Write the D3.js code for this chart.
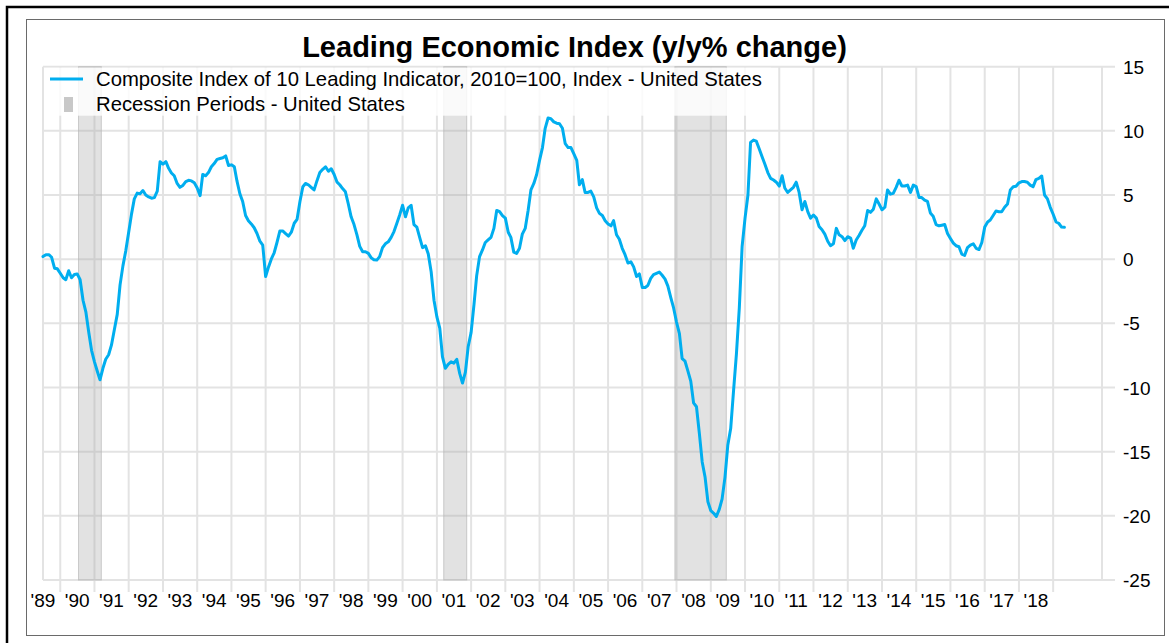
<!DOCTYPE html>
<html>
<head>
<meta charset="utf-8">
<script src="https://cdn.jsdelivr.net/npm/d3@7"></script>
<style>
body { margin: 0; background: white; }
text { font-family: "Liberation Sans", Arial, sans-serif; fill: #000; }
</style>
</head>
<body>
<div id="chart"></div>
<script>
// monthly y/y % change, first value = Jul 1989
var startMonth = new Date(1989, 6, 1);
var leiValues = [
  0.2, 0.35, 0.35, 0.15, -0.7, -0.75,
  -1.1, -1.45, -1.6, -0.9, -1.45, -1.2, -1.15, -1.6, -3.2, -4.1, -5.7, -7.1,
  -8.0, -8.75, -9.4, -8.5, -7.8, -7.45, -6.7, -5.5, -4.3, -2.0, -0.5, 0.65,
  2.1, 3.55, 4.7, 5.15, 5.1, 5.35, 5.0, 4.85, 4.75, 4.8, 5.3, 7.6,
  7.4, 7.6, 7.1, 6.72, 6.5, 5.9, 5.6, 5.75, 6.05, 6.15, 6.1, 5.95,
  5.55, 4.95, 6.6, 6.5, 6.75, 7.2, 7.45, 7.78, 7.85, 7.9, 8.05, 7.3,
  7.35, 7.2, 6.1, 5.1, 4.5, 3.4, 3.0, 2.75, 2.45, 2.0, 1.4, 1.1,
  -1.35, -0.6, 0.0, 0.5, 1.3, 2.2, 2.2, 2.0, 1.8, 2.1, 2.8, 3.1,
  4.5, 5.65, 5.9, 5.8, 5.6, 5.4, 6.1, 6.75, 7.0, 7.2, 6.85, 7.05,
  6.6, 6.0, 5.8, 5.5, 5.25, 4.3, 3.3, 2.7, 1.9, 1.0, 0.58, 0.58,
  0.45, 0.1, -0.05, -0.07, 0.2, 0.9, 1.2, 1.35, 1.7, 2.15, 2.8, 3.45,
  4.2, 3.3, 4.0, 4.2, 2.7, 2.5, 1.7, 0.9, 1.05, 0.4, -1.0, -3.2,
  -4.5, -5.4, -7.6, -8.5, -8.2, -8.0, -8.1, -7.8, -8.9, -9.65, -8.8, -6.8,
  -5.7, -3.5, -1.3, 0.2, 0.7, 1.3, 1.5, 1.7, 2.4, 3.8, 3.7, 3.4,
  3.2, 2.1, 1.7, 0.55, 0.45, 0.85, 1.95, 2.4, 3.8, 5.4, 5.9, 6.6,
  7.7, 8.7, 10.2, 11.0, 10.95, 10.7, 10.6, 10.55, 10.2, 9.0, 8.7, 8.7,
  8.2, 7.7, 5.8, 6.2, 5.2, 5.2, 5.3, 4.86, 4.0, 3.57, 3.4, 3.0,
  2.75, 2.6, 3.0, 1.9, 1.55, 0.85, 0.35, -0.3, -0.2, -0.6, -1.35, -1.15,
  -2.2, -2.2, -2.05, -1.5, -1.2, -1.1, -1.0, -1.25, -1.55, -2.1, -3.0, -3.8,
  -4.9, -5.8, -7.75, -7.95, -8.7, -9.5, -11.2, -11.5, -13.6, -15.8, -17.0, -18.9,
  -19.6, -19.8, -20.05, -19.5, -18.7, -17.0, -14.5, -13.2, -10.2, -7.4, -3.8, 1.0,
  3.2, 5.0, 9.1, 9.28, 9.2, 8.6, 8.0, 7.4, 6.75, 6.3, 6.17, 6.0,
  5.7, 6.5, 5.55, 5.2, 5.4, 5.6, 6.0, 5.2, 3.85, 4.5, 3.7, 3.2,
  3.44, 3.2, 2.55, 2.3, 1.95, 1.4, 1.05, 1.2, 2.4, 1.9, 1.75, 1.45,
  1.75, 1.65, 0.85, 1.5, 1.85, 2.25, 2.6, 3.8, 3.65, 3.9, 4.7, 4.3,
  3.85, 4.05, 5.4, 5.07, 5.13, 5.6, 6.15, 5.7, 5.7, 5.77, 5.2, 5.77,
  5.65, 4.8, 4.8, 4.6, 4.5, 3.6, 3.35, 2.7, 2.6, 2.65, 2.7, 2.0,
  1.62, 1.25, 1.05, 0.97, 0.4, 0.3, 0.9, 1.1, 1.2, 0.85, 0.75, 1.3,
  2.5, 2.9, 3.05, 3.4, 3.75, 3.7, 3.7, 4.05, 4.3, 5.39, 5.64, 5.68,
  5.95, 6.05, 6.05, 6.0, 5.77, 5.64, 6.2, 6.3, 6.48, 5.0, 4.7, 4.04,
  3.5, 2.9, 2.8, 2.5, 2.48
];
var recessionStarts = ["1990-07-15", "2001-03-15", "2007-12-15"];
var recessionEnds = ["1991-03-15", "2001-11-15", "2009-06-15"];
var yTicks = [15, 10, 5, 0, -5, -10, -15, -20, -25];
var labelYears = d3.range(1989, 2019);
var titleText = "Leading Economic Index (y/y% change)";
var legendLabels = ["Composite Index of 10 Leading Indicator, 2010=100, Index - United States",
                    "Recession Periods - United States"];

var lineColour = "#00aeef";
var gridColour = "#e3e3e3";
var plotLeft = 43, plotRight = 1102, plotTop = 66.7, plotBottom = 580;

var svg = d3.select("#chart")
    .append("svg")
    .attr("width", 1169)
    .attr("height", 643);

var x = d3.scaleTime()
    .domain([new Date(1989, 6, 1), new Date(2020, 5, 5)])
    .range([plotLeft, plotRight]);
var y = d3.scaleLinear()
    .domain([-25, 15])
    .range([plotBottom, plotTop]);

var parse = d3.timeParse("%Y-%m-%d");
var data = leiValues.map(function(v, i) {
    return {date: d3.timeMonth.offset(startMonth, i), value: v};
});

// grid
var grid = svg.append("g").attr("id", "grid");
grid.selectAll(".hgrid")
    .data(yTicks)
    .enter().append("line")
    .attr("x1", plotLeft).attr("x2", 1115)
    .attr("y1", function(d) { return y(d); })
    .attr("y2", function(d) { return y(d); })
    .style("stroke", gridColour)
    .style("stroke-width", 2);
grid.selectAll(".vgrid")
    .data(d3.timeYear.range(new Date(1990, 0, 1), new Date(2019, 1, 1)))
    .enter().append("line")
    .attr("x1", function(d) { return x(d); })
    .attr("x2", function(d) { return x(d); })
    .attr("y1", plotTop).attr("y2", plotBottom + 12)
    .style("stroke", gridColour)
    .style("stroke-width", 2);
grid.selectAll(".edge")
    .data([plotLeft, plotRight])
    .enter().append("line")
    .attr("x1", function(d) { return d; })
    .attr("x2", function(d) { return d; })
    .attr("y1", plotTop).attr("y2", plotBottom)
    .style("stroke", gridColour)
    .style("stroke-width", 2);

// recession bands
svg.append("g").selectAll("rect")
    .data(recessionStarts)
    .enter().append("rect")
    .attr("x", function(d) { return x(parse(d)); })
    .attr("width", function(d, i) { return x(parse(recessionEnds[i])) - x(parse(d)); })
    .attr("y", plotTop)
    .attr("height", plotBottom - plotTop)
    .style("fill", "#a8a8a8")
    .style("fill-opacity", 0.33)
    .style("stroke", "#b8b8b8")
    .style("stroke-opacity", 0.7)
    .style("stroke-width", 1);

// line
var line = d3.line()
    .x(function(d) { return x(d.date); })
    .y(function(d) { return y(d.value); });
svg.append("path")
    .datum(data)
    .attr("d", line)
    .style("fill", "none")
    .style("stroke", lineColour)
    .style("stroke-width", 3)
    .style("stroke-linejoin", "round")
    .style("stroke-linecap", "round");

// legend
svg.append("rect")
    .attr("x", plotLeft + 1).attr("y", plotTop + 1)
    .attr("width", 727).attr("height", 48)
    .style("fill", "white")
    .style("fill-opacity", 0.82);
svg.append("line")
    .attr("x1", 50).attr("x2", 83)
    .attr("y1", 79).attr("y2", 79)
    .style("stroke", lineColour)
    .style("stroke-width", 3);
svg.append("rect")
    .attr("x", 64).attr("y", 97)
    .attr("width", 9).attr("height", 15)
    .style("fill", "#c8c8c8");
svg.selectAll(".legendText")
    .data(legendLabels)
    .enter().append("text")
    .attr("x", 96)
    .attr("y", function(d, i) { return 86 + i * 24.5; })
    .attr("font-size", "20.3px")
    .text(function(d) { return d; });

// title
svg.append("text")
    .attr("x", 574.5)
    .attr("y", 57)
    .attr("text-anchor", "middle")
    .attr("font-size", "29px")
    .attr("font-weight", "bold")
    .text(titleText);

// y labels (right)
svg.selectAll(".ylab")
    .data(yTicks)
    .enter().append("text")
    .attr("x", 1123)
    .attr("y", function(d) { return y(d) + 7; })
    .attr("font-size", "19px")
    .text(function(d) { return d; });

// x labels at mid-year
svg.selectAll(".xlab")
    .data(labelYears)
    .enter().append("text")
    .attr("x", function(d) { return x(new Date(d, 6, 1)); })
    .attr("y", 607)
    .attr("text-anchor", "middle")
    .attr("font-size", "19px")
    .text(function(d) { return "'" + String(d).slice(2); });

// frames
svg.append("rect")
    .attr("x", 26.5).attr("y", 19.5)
    .attr("width", 1138).attr("height", 616)
    .style("fill", "none")
    .style("stroke", "#6a6a6a")
    .style("stroke-width", 1);
svg.append("rect")
    .attr("x", 7).attr("y", 7)
    .attr("width", 1200).attr("height", 700)
    .style("fill", "none")
    .style("stroke", "black")
    .style("stroke-width", 2.5);
</script>
</body>
</html>
